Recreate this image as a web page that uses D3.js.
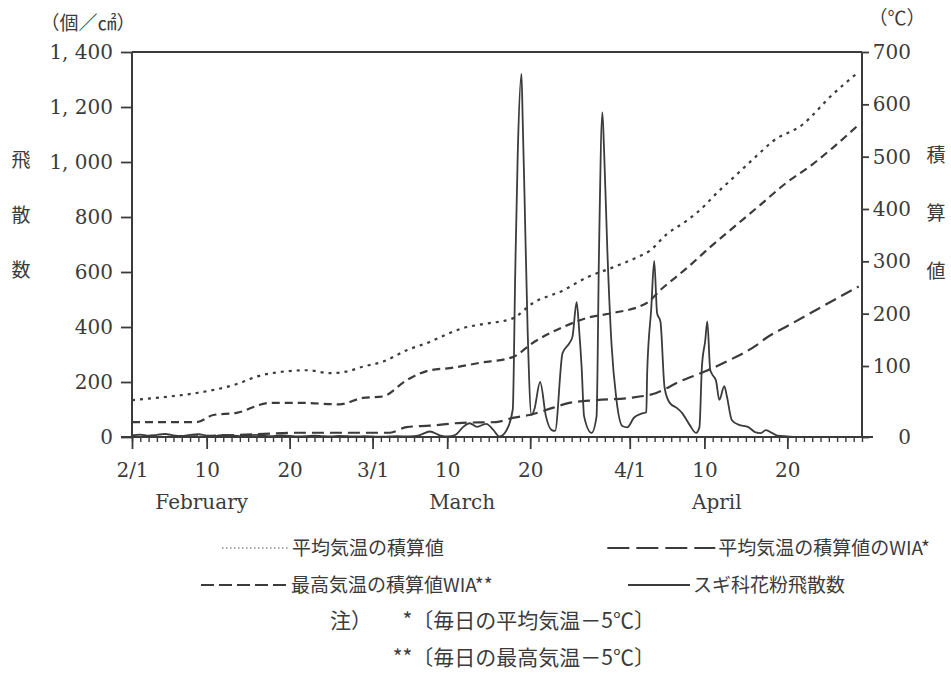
<!DOCTYPE html>
<html>
<head>
<meta charset="utf-8">
<script src="https://cdn.jsdelivr.net/npm/d3@7"></script>
<style>
  body { margin: 0; background: #fff; }
  svg { display: block; }
</style>
</head>
<body>
<svg id="chart" width="951" height="676"></svg>
<script>
// ---- data -------------------------------------------------------------
// Day index counted from 2/1 (February with 29 days).
const dayTicks = [0, 9, 19, 29, 38, 48, 60, 69, 79];
const dayTickLabels = ["2/1", "10", "20", "3/1", "10", "20", "4/1", "10", "20"];
const lastDay = 88;
const monthNames = ["February", "March", "April"];
const monthCenterDays = [8.4, 39.8, 70.5];

const countTicks = [0, 200, 400, 600, 800, 1000, 1200, 1400];
const sumTicks = [0, 100, 200, 300, 400, 500, 600, 700];

// スギ科花粉飛散数 (個/cm²): [day, count]
const pollen = [
  [0, 6], [1, 9], [2, 5], [3, 8], [4, 11], [5, 6], [6, 4], [7, 8], [8, 10], [9, 5],
  [10, 4], [11, 8], [12, 6], [13, 3], [14, 6], [15, 8], [16, 4], [17, 3], [18, 6], [19, 4],
  [20, 2], [21, 3], [22, 5], [23, 3], [24, 2], [25, 4], [26, 3], [27, 2], [28, 3], [29, 2],
  [30, 1], [31, 2], [32, 3], [33, 2], [34, 3], [34.7, 7], [35.9, 20], [37.1, 6], [37.7, 2],
  [38.5, 3], [39.1, 10], [39.9, 36], [40.7, 50], [41.6, 37], [42.7, 48], [43.5, 28], [44.3, 2],
  [45.1, 22], [45.9, 100], [46.2, 600], [46.5, 1030], [46.95, 1320], [47.1, 1150], [47.3, 900],
  [47.7, 380], [48.15, 80], [48.5, 100], [49.2, 200], [49.9, 75], [50.6, 25], [51.0, 22],
  [51.9, 305], [52.7, 340], [53.1, 365], [53.6, 490], [53.9, 390], [54.2, 255], [54.5, 75],
  [55.4, 15], [56.0, 75], [56.3, 680], [56.7, 1180], [56.9, 1050], [57.3, 680], [57.8, 340],
  [58.4, 135], [59.1, 40], [59.7, 35], [60.5, 70], [61.4, 85], [62.0, 90], [62.1, 230],
  [62.6, 470], [62.95, 640], [63.3, 450], [63.7, 420], [64.2, 180], [64.8, 125], [65.7, 105],
  [66.3, 88], [67.2, 45], [68.0, 15], [68.4, 35], [68.7, 255], [69.1, 350], [69.35, 420],
  [69.7, 245], [69.9, 230], [70.4, 205], [70.8, 135], [71.4, 185], [71.7, 150], [72.3, 62],
  [73.1, 45], [74.3, 36], [75.1, 18], [75.8, 14], [76.4, 25], [77.2, 14], [77.8, 5],
  [79, 2], [80, 0], [83, 0], [88, 0]
];

// 平均気温の積算値 (℃): [day, value]
const meanSum = [
  [0, 52], [3.7, 56], [7.8, 62], [13, 76], [15, 85], [16.9, 90], [21.1, 94], [23.8, 90],
  [25.8, 92], [27.8, 99], [30.2, 108], [33.1, 130], [35.9, 146], [38.3, 163], [39.8, 172],
  [42.3, 180], [45.9, 191], [48.3, 220], [51.9, 244], [54.8, 269], [57.9, 288], [60.8, 307],
  [62.4, 320], [64.4, 351], [66.8, 377], [69.2, 409], [69.9, 421], [72.3, 457], [75.6, 506],
  [77.2, 529], [80.8, 561], [84.4, 618], [87.6, 662]
];

// 最高気温の積算値WIA (℃): [day, value]
const maxWIA = [
  [0, 21], [7.8, 21], [9.8, 31], [12.6, 34], [16.6, 48], [20.6, 48], [25.0, 46], [27.8, 55],
  [30.2, 57], [33.1, 80], [35.9, 94], [38.3, 97], [41.9, 106], [45.9, 117], [48.3, 144],
  [51.9, 174], [55.1, 193], [57.9, 201], [62.0, 220], [63.9, 248], [66.8, 286], [69.9, 330],
  [72.3, 362], [75.6, 406], [78.8, 449], [82.0, 485], [84.4, 516], [87.6, 561]
];

// 平均気温の積算値のWIA (℃): [day, value]
const meanWIA = [
  [0, 0], [7.8, 1], [15, 4], [19.9, 6], [31.1, 6], [33.1, 14], [35.9, 16], [39.8, 20],
  [43.9, 21], [45.9, 27], [47.9, 31], [50.7, 41], [52.7, 48], [56.0, 52], [59.9, 55],
  [63.2, 62], [66.0, 78], [69.2, 93], [72.0, 111], [75.3, 140], [76.4, 153], [79.2, 178],
  [82.8, 210], [87.6, 252]
];

const legendNames = [
  "平均気温の積算値",
  "平均気温の積算値のWIA*",
  "最高気温の積算値WIA**",
  "スギ科花粉飛散数"
];
const noteLines = ["注）", "*〔毎日の平均気温－5℃〕", "**〔毎日の最高気温－5℃〕"];

// ---- drawing ----------------------------------------------------------
const ink = "#3b3b3b";
const serif = "DejaVu Serif, Liberation Serif, serif";
const jp = "Noto Sans CJK JP, Noto Sans, sans-serif";

const svg = d3.select("#chart");
const plot = { left: 132, right: 862, top: 52, bottom: 437 };

const x = d3.scaleLinear().domain([0, lastDay]).range([plot.left, plot.right]);
const yCount = d3.scaleLinear().domain([0, 1400]).range([plot.bottom, plot.top]);
// the cumulative-temperature axis has a wider first step (0-100) than the rest
const ySum = d3.scaleLinear().domain([0, 100, 700]).range([plot.bottom, 366, plot.top]);

svg.append("rect").attr("width", 951).attr("height", 676).attr("fill", "#fff");

// frame
const frame = svg.append("g").attr("stroke", ink).attr("stroke-width", 2).attr("fill", "none");
frame.append("line").attr("x1", plot.left).attr("x2", plot.right).attr("y1", plot.top).attr("y2", plot.top);
frame.append("line").attr("x1", plot.left).attr("x2", plot.left).attr("y1", plot.top).attr("y2", plot.bottom);
frame.append("line").attr("x1", plot.right).attr("x2", plot.right).attr("y1", plot.top).attr("y2", plot.bottom);
frame.append("line").attr("x1", 121).attr("x2", 873).attr("y1", plot.bottom).attr("y2", plot.bottom);

function styleAxis(g, size) {
  g.select(".domain").remove();
  g.selectAll(".tick line").attr("stroke", ink).attr("stroke-width", 1.8);
  g.selectAll(".tick text").attr("font-family", serif).attr("font-size", size).attr("fill", ink);
}

const fmtCount = v => d3.format(",")(v).replace(",", ", ");

const gLeft = svg.append("g").attr("transform", `translate(${plot.left},0)`)
  .call(d3.axisLeft(yCount).tickValues(countTicks).tickSize(11).tickPadding(8).tickFormat(fmtCount));
styleAxis(gLeft, 20);

const gSum = svg.append("g").attr("transform", `translate(${plot.right},0)`)
  .call(d3.axisRight(ySum).tickValues(sumTicks).tickSize(7).tickPadding(2).tickFormat(d3.format("d")));
styleAxis(gSum, 20);
gSum.selectAll(".tick text").attr("text-anchor", "end").attr("x", 49);

const gMinor = svg.append("g").attr("transform", `translate(0,${plot.bottom})`)
  .call(d3.axisBottom(x).tickValues(d3.range(0, lastDay + 1)).tickSize(5).tickFormat(""));
styleAxis(gMinor, 20);
gMinor.selectAll(".tick line").attr("stroke-width", 1.4);

const gMajor = svg.append("g").attr("transform", `translate(0,${plot.bottom})`)
  .call(d3.axisBottom(x).tickValues(dayTicks).tickSize(12).tickPadding(14)
    .tickFormat((d, i) => dayTickLabels[i]));
styleAxis(gMajor, 20);

svg.append("g").selectAll("text").data(monthNames).join("text")
  .attr("x", (d, i) => x(monthCenterDays[i])).attr("y", 509)
  .attr("text-anchor", "middle").attr("font-family", serif).attr("font-size", 20).attr("fill", ink)
  .text(d => d);

// axis titles
const jpText = (t, px, py, size, anchor) => svg.append("text")
  .attr("x", px).attr("y", py).attr("font-family", jp).attr("font-size", size)
  .attr("fill", ink).attr("text-anchor", anchor || "start").text(t);

jpText("（個／㎠）", 88, 30, 19, "middle");
jpText("（℃）", 897, 25, 19, "middle");
["飛", "散", "数"].forEach((c, i) => jpText(c, 21, 167 + i * 55, 19, "middle"));
["積", "算", "値"].forEach((c, i) => jpText(c, 936, 162 + i * 58, 19, "middle"));

// series
const lineOf = (scale) => d3.line().x(d => x(d[0])).y(d => scale(d[1])).curve(d3.curveMonotoneX);

const series = [
  { data: meanSum, scale: ySum, dash: "3,5", width: 2.2 },
  { data: maxWIA, scale: ySum, dash: "8,5", width: 2.2 },
  { data: meanWIA, scale: ySum, dash: "12,6", width: 2.2 },
  { data: pollen, scale: yCount, dash: null, width: 1.8 }
];
svg.append("g").selectAll("path").data(series).join("path")
  .attr("d", s => lineOf(s.scale)(s.data))
  .attr("fill", "none").attr("stroke", ink)
  .attr("stroke-width", s => s.width)
  .attr("stroke-dasharray", s => s.dash)
  .attr("stroke-linejoin", "round");

// legend: a line sample sits just left of each label;
// left-column labels start at a fixed x, right-column labels are end-aligned
const legendSize = 19;
const legend = [
  { len: 67, y: 548, dash: "1.5,2.5", width: 1.4, color: "#8a8a8a", name: legendNames[0], start: 292, end: null },
  { len: 108, y: 548, dash: "22,7", width: 1.8, color: ink, name: legendNames[1], start: null, end: 930 },
  { len: 87, y: 585, dash: "13,5", width: 1.8, color: ink, name: legendNames[2], start: 291, end: null },
  { len: 62, y: 585, dash: null, width: 1.8, color: ink, name: legendNames[3], start: null, end: 845 }
];
const lg = svg.append("g");
legend.forEach(it => {
  const t = lg.append("text").attr("y", it.y + 7)
    .attr("font-family", jp).attr("font-size", legendSize).attr("fill", ink).text(it.name);
  let start = it.start;
  if (it.end !== null) {
    t.attr("x", it.end).attr("text-anchor", "end");
    start = it.end - t.node().getComputedTextLength();
  } else {
    t.attr("x", start);
  }
  lg.append("line").attr("x1", start - 3 - it.len).attr("x2", start - 3).attr("y1", it.y).attr("y2", it.y)
    .attr("stroke", it.color).attr("stroke-width", it.width).attr("stroke-dasharray", it.dash);
});
jpText(noteLines[0], 330, 628, 21);
jpText(noteLines[1], 655, 628, 21, "end");
jpText(noteLines[2], 655, 665, 21, "end");
</script>
</body>
</html>
